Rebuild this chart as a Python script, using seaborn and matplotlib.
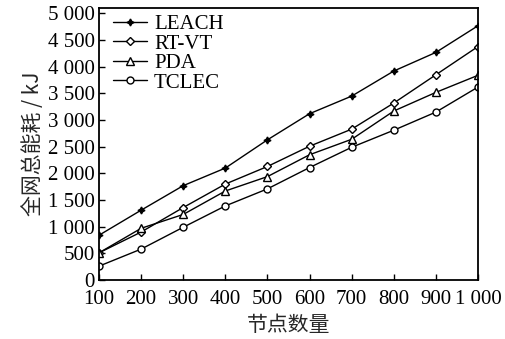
import matplotlib
matplotlib.use("Agg")
import matplotlib.pyplot as plt
import seaborn as sns
import pandas as pd

nodes = [100, 200, 300, 400, 500, 600, 700, 800, 900, 1000]
leach = [840, 1310, 1770, 2100, 2630, 3120, 3450, 3920, 4270, 4770]
rtvt = [510, 900, 1360, 1800, 2130, 2510, 2830, 3320, 3850, 4380]
pda = [510, 970, 1230, 1670, 1940, 2350, 2640, 3170, 3520, 3840]
tclec = [260, 580, 990, 1390, 1710, 2110, 2490, 2810, 3150, 3620]
series_names = ["LEACH", "RT-VT", "PDA", "TCLEC"]
yticks = [0, 500, 1000, 1500, 2000, 2500, 3000, 3500, 4000, 4500, 5000]
ytick_labels = ["0", "500", "1 000", "1 500", "2 000", "2 500", "3 000",
                "3 500", "4 000", "4 500", "5 000"]
xtick_labels = ["100", "200", "300", "400", "500", "600", "700", "800", "900", "1 000"]

df = pd.DataFrame({"nodes": nodes * 4,
                   "energy": leach + rtvt + pda + tclec,
                   "alg": sum([[n] * len(nodes) for n in series_names], [])})

sns.set_theme(style="white")
plt.rcParams['font.family'] = ['Liberation Serif', 'Noto Sans CJK SC', 'DejaVu Sans']

fig = plt.figure(figsize=(5.06, 3.39), dpi=100)
ax = fig.add_axes([0.1957, 0.174, 0.749, 0.802])

markers = {"LEACH": (4, 1, 0), "RT-VT": "D", "PDA": "^", "TCLEC": "o"}
sizes = {"LEACH": 5, "RT-VT": 4.3, "PDA": 5.5, "TCLEC": 5}
for name in series_names:
    sub = df[df["alg"] == name]
    filled = name == "LEACH"
    sns.lineplot(data=sub, x="nodes", y="energy", ax=ax, color="black",
                 linewidth=1.0, marker=markers[name], markersize=sizes[name],
                 markerfacecolor="black" if filled else "white",
                 markeredgecolor="black", markeredgewidth=1.0, label=name)

ax.set_xlim(100, 1000)
ax.set_ylim(0, 5100)
ax.set_xticks(nodes)
ax.set_xticklabels(xtick_labels)
ax.set_yticks(yticks)
ax.set_yticklabels(ytick_labels)
ax.tick_params(axis="both", direction="in", length=4, width=1, labelsize=15,
               colors="black", left=True, bottom=True)
ax.tick_params(axis="x", pad=7.5)
ax.tick_params(axis="y", pad=3)
for s in ax.spines.values():
    s.set_color("black")
    s.set_linewidth(1.3)

ax.set_xlabel("节点数量", fontsize=15, family=['Noto Sans CJK SC', 'DejaVu Sans'], labelpad=3)
ax.set_ylabel("全网总能耗 / kJ", fontsize=15, family=['Noto Sans CJK SC', 'DejaVu Sans'], labelpad=3)

leg = ax.legend(loc="upper left", frameon=False, fontsize=15, handlelength=1.65,
                handletextpad=0.33, labelspacing=0.0, borderaxespad=0.2,
                borderpad=0.1, bbox_to_anchor=(0.02, 1.0))
for t in leg.get_texts():
    t.set_color("black")

fig.savefig("out.png", dpi=100)
